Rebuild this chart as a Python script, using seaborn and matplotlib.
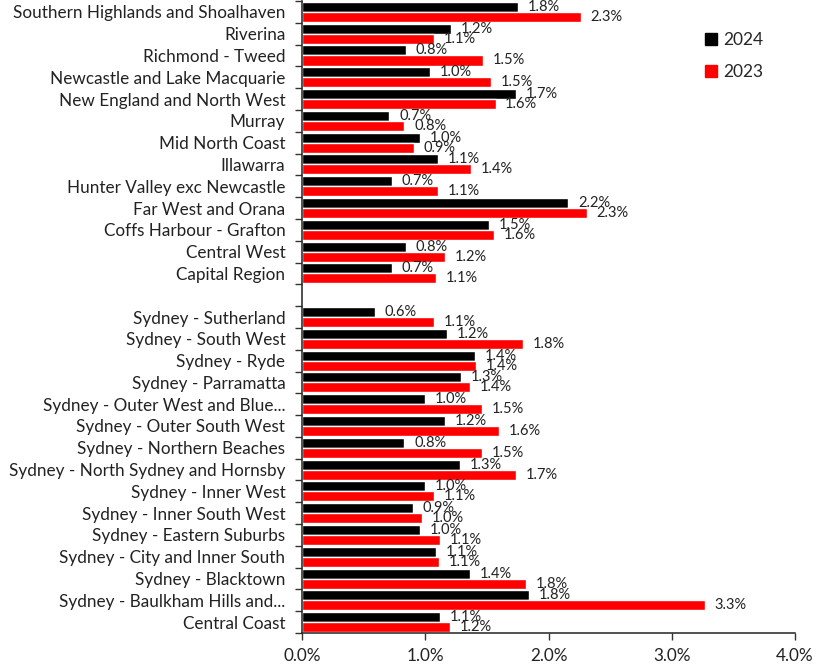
import matplotlib
matplotlib.use("Agg")
import matplotlib.pyplot as plt
from matplotlib.lines import Line2D
import numpy as np
import pandas as pd
import seaborn as sns

# Regions, top to bottom ("" leaves a blank row between the two groups)
regions = [
    "Southern Highlands and Shoalhaven", "Riverina", "Richmond - Tweed",
    "Newcastle and Lake Macquarie", "New England and North West", "Murray",
    "Mid North Coast", "Illawarra", "Hunter Valley exc Newcastle",
    "Far West and Orana", "Coffs Harbour - Grafton", "Central West",
    "Capital Region", "",
    "Sydney - Sutherland", "Sydney - South West", "Sydney - Ryde",
    "Sydney - Parramatta", "Sydney - Outer West and Blue...",
    "Sydney - Outer South West", "Sydney - Northern Beaches",
    "Sydney - North Sydney and Hornsby", "Sydney - Inner West",
    "Sydney - Inner South West", "Sydney - Eastern Suburbs",
    "Sydney - City and Inner South", "Sydney - Blacktown",
    "Sydney - Baulkham Hills and...", "Central Coast",
]

# Rates in percent (None for the blank separator row)
rate_2024 = [1.75, 1.21, 0.84, 1.04, 1.74, 0.71, 0.96, 1.10, 0.73, 2.16, 1.52,
             0.84, 0.73, None,
             0.59, 1.18, 1.40, 1.29, 1.00, 1.16, 0.83, 1.28, 1.00, 0.90, 0.96,
             1.09, 1.36, 1.84, 1.12]
rate_2023 = [2.26, 1.07, 1.47, 1.53, 1.57, 0.83, 0.91, 1.37, 1.10, 2.31, 1.56,
             1.16, 1.09, None,
             1.07, 1.79, 1.41, 1.36, 1.46, 1.60, 1.46, 1.74, 1.07, 0.97, 1.12,
             1.11, 1.82, 3.27, 1.20]

years = ["2024", "2023"]
colors = {"2024": "#000000", "2023": "#ff0000"}

rows = []
for r, a, b in zip(regions, rate_2024, rate_2023):
    if r == "":
        continue
    rows.append({"region": r, "year": "2024", "rate": a})
    rows.append({"region": r, "year": "2023", "rate": b})
df = pd.DataFrame(rows)

sns.set_theme(style="white")
plt.rcParams["font.family"] = ["Lato", "DejaVu Sans"]

fig = plt.figure(figsize=(8.31, 6.66), dpi=100)
ax = fig.add_axes([0.3634, 0.0495, 0.5933, 0.949])

sns.barplot(data=df, y="region", x="rate", hue="year", order=regions,
            hue_order=years, palette=colors, orient="h", width=0.92,
            errorbar=None, saturation=1, legend=False, ax=ax)

for cont in ax.containers:
    ax.bar_label(cont, labels=[f"{w:.1f}%" for w in cont.datavalues],
                 padding=7, fontsize=10.5, color="#222222")

ax.set_xlim(0, 4)
ax.set_ylim(len(regions) - 0.5, -0.5)
ax.set_xticks(np.arange(0, 4.01, 1))
ax.set_xticklabels([f"{v:.1f}%" for v in np.arange(0, 4.01, 1)])
ax.set_xlabel("")
ax.set_ylabel("")

# Tick marks sit between the rows, labels at the row centres
ax.set_yticks(np.arange(-0.5, len(regions)), minor=True)
ax.tick_params(axis="y", which="major", length=0, pad=12, labelsize=12.3,
               labelcolor="#222222")
ax.tick_params(axis="y", which="minor", left=True, length=5, width=1,
               color="#333333")
ax.tick_params(axis="x", which="major", bottom=True, length=5, width=1,
               color="#333333", labelsize=12.3, labelcolor="#222222", pad=6)

sns.despine(ax=ax, top=True, right=True)
for s in ("left", "bottom"):
    ax.spines[s].set_color("#222222")
    ax.spines[s].set_linewidth(1.1)

handles = [Line2D([], [], marker="s", linestyle="", markersize=8,
                  color=colors[y]) for y in years]
ax.legend(handles, years, loc="upper left", bbox_to_anchor=(0.78, 0.975),
          frameon=False, fontsize=12.5, handletextpad=0.2, labelspacing=0.9,
          handlelength=1.0)

fig.savefig("out.png", dpi=100)
